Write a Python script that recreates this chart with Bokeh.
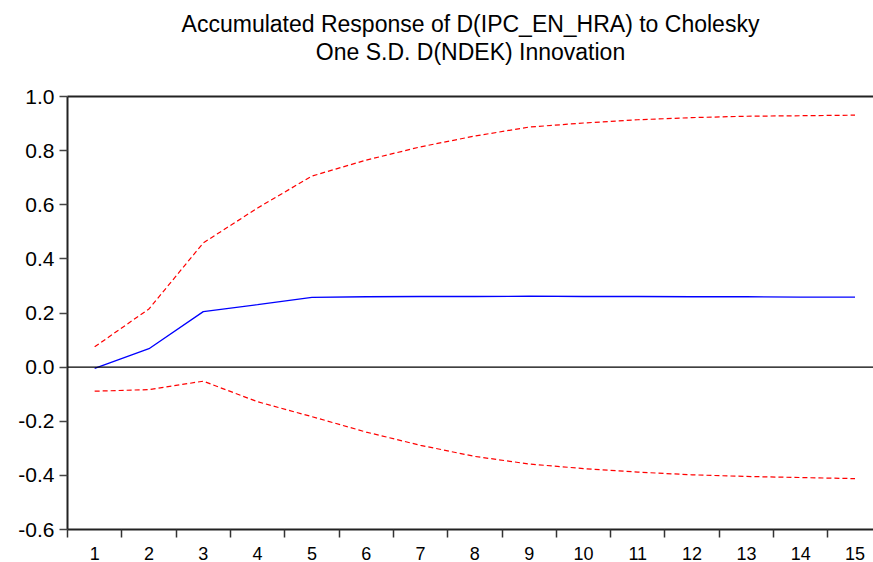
from bokeh.plotting import figure
from bokeh.models import Range1d, FixedTicker, Span, LinearAxis, NumeralTickFormatter, Title
from bokeh.embed import file_html
from bokeh.resources import INLINE

periods = list(range(1, 16))
x_tick_labels = [str(i) for i in periods]
response = [-0.005, 0.068, 0.205, 0.231, 0.258, 0.260, 0.261, 0.261, 0.262, 0.261, 0.261, 0.260, 0.260, 0.259, 0.259]
upper_band = [0.075, 0.215, 0.459, 0.588, 0.706, 0.765, 0.814, 0.854, 0.887, 0.902, 0.914, 0.922, 0.927, 0.929, 0.931]
lower_band = [-0.089, -0.083, -0.052, -0.128, -0.183, -0.240, -0.289, -0.330, -0.358, -0.375, -0.388, -0.398, -0.404, -0.408, -0.412]
y_ticks = [-0.6, -0.4, -0.2, 0.0, 0.2, 0.4, 0.6, 0.8, 1.0]
title_lines = ["Accumulated Response of D(IPC_EN_HRA) to Cholesky", "One S.D. D(NDEK) Innovation"]

FONT = "Liberation Sans"

p = figure(width=873, height=562, output_backend="svg", toolbar_location=None,
           x_range=Range1d(0.5, 15.34), y_range=Range1d(-0.6, 1.0),
           min_border_left=67, min_border_top=96, min_border_bottom=30, min_border_right=0)
p.outline_line_color = None
p.xgrid.grid_line_color = None
p.ygrid.grid_line_color = None
p.background_fill_color = "white"
p.border_fill_color = "white"

# Lines
p.line(periods, upper_band, line_color="#FF0000", line_width=1.2, line_dash="5 3")
p.line(periods, lower_band, line_color="#FF0000", line_width=1.2, line_dash="5 3")
p.line(periods, response, line_color="#0000FF", line_width=1.3)

p.add_layout(Span(location=0, dimension="width", line_color="black", line_width=1.2))

# X axis
xa = p.xaxis[0]
xa.ticker = FixedTicker(ticks=periods, minor_ticks=[i + 0.5 for i in range(0, 16)])
xa.major_label_overrides = {i: s for i, s in zip(periods, x_tick_labels)}
xa.major_tick_line_color = None
xa.major_tick_out = 0
xa.major_tick_in = 0
xa.minor_tick_out = 8
xa.minor_tick_in = 0
xa.minor_tick_line_color = "#333333"
xa.minor_tick_line_width = 1.5
xa.axis_line_color = "#222222"
xa.axis_line_width = 2
xa.major_label_standoff = 9
xa.major_label_text_font = FONT
xa.major_label_text_font_size = "18px"
xa.major_label_text_color = "black"

# Y axis
ya = p.yaxis[0]
ya.ticker = FixedTicker(ticks=y_ticks, minor_ticks=[])
ya.formatter = NumeralTickFormatter(format="0.0")
ya.major_tick_out = 8
ya.major_tick_in = 0
ya.major_tick_line_color = "#444444"
ya.major_tick_line_width = 1.5
ya.axis_line_color = "#222222"
ya.axis_line_width = 2
ya.major_label_standoff = 5
ya.major_label_text_font = FONT
ya.major_label_text_font_size = "21px"
ya.major_label_text_color = "black"

# Top border
top = LinearAxis(ticker=FixedTicker(ticks=[]), major_label_text_font_size="0px",
                 major_tick_line_color=None, minor_tick_line_color=None,
                 axis_line_color="#222222", axis_line_width=2)
p.add_layout(top, "above")

# Spacer between frame and title
p.add_layout(Title(text=" ", text_font=FONT, text_font_size="27px", standoff=0, offset=0), "above")
# Title (two lines)
p.add_layout(Title(text=title_lines[1], align="center", text_font=FONT, text_font_size="23px",
                   text_font_style="normal", text_color="black", standoff=0, offset=12), "above")
p.add_layout(Title(text=title_lines[0], align="center", text_font=FONT, text_font_size="23px",
                   text_font_style="normal", text_color="black", standoff=0, offset=12), "above")

open("out.html", "w").write(file_html(p, INLINE))
